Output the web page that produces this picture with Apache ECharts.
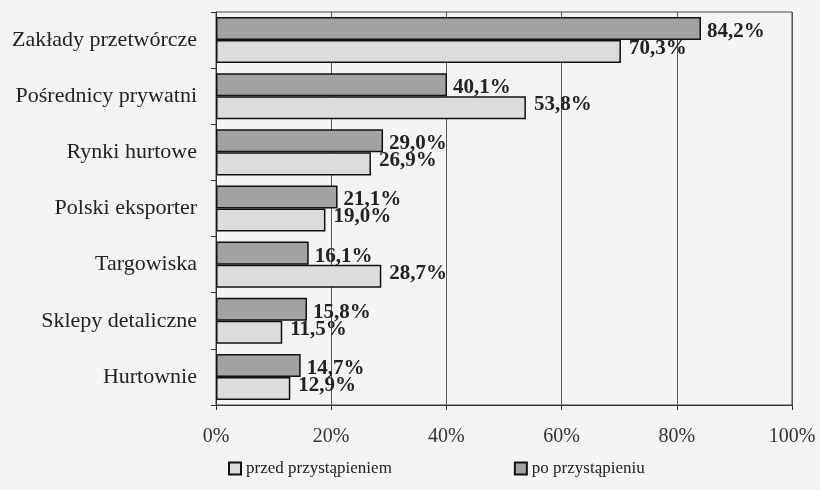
<!DOCTYPE html>
<html><head><meta charset="utf-8">
<script src="https://cdn.jsdelivr.net/npm/echarts@6/dist/echarts.min.js"></script>
<style>html,body{margin:0;padding:0;background:#f4f4f2}#c{width:820px;height:490px}</style>
</head><body><div id="c"></div>
<script>
const categories = ['Zakłady przetwórcze','Pośrednicy prywatni','Rynki hurtowe','Polski eksporter','Targowiska','Sklepy detaliczne','Hurtownie'];
const poValues = [84.2, 40.1, 29.0, 21.1, 16.1, 15.8, 14.7];
const przedValues = [70.3, 53.8, 26.9, 19.0, 28.7, 11.5, 12.9];
const seriesNames = ['przed przystąpieniem', 'po przystąpieniu'];
const xTicks = [0, 20, 40, 60, 80, 100];

const font = 'Liberation Serif';
const fmt = v => v.toFixed(1).replace('.', ',') + '%';
const chart = echarts.init(document.getElementById('c'), null, {renderer:'canvas'});
chart.setOption({
  backgroundColor: '#f4f4f2',
  animation: false,
  grid: {left: 216, right: 28, top: 12, bottom: 85, show: true, borderColor: '#444', borderWidth: 1},
  legend: {
    data: seriesNames, icon: 'rect', bottom: 8, left: 223, itemGap: 122, itemWidth: 12, itemHeight: 12,
    textStyle: {fontFamily: font, fontSize: 17, color: '#222'}
  },
  xAxis: {
    type: 'value', min: 0, max: 100, interval: 20,
    axisLine: {show: true, lineStyle: {color: '#333'}},
    axisTick: {show: true, length: 5, lineStyle: {color: '#333'}},
    axisLabel: {margin: 22, fontFamily: font, fontSize: 20, color: '#333', formatter: v => xTicks.includes(v) ? v + '%' : ''},
    splitLine: {show: true, lineStyle: {color: '#555', width: 1}}
  },
  yAxis: {
    type: 'category', data: categories, inverse: true,
    axisLine: {show: true, lineStyle: {color: '#333'}},
    axisTick: {show: true, length: 5, lineStyle: {color: '#333'}},
    axisLabel: {margin: 19, fontFamily: font, fontSize: 22, color: '#222'}
  },
  series: [
    {
      name: seriesNames[1], type: 'bar', data: poValues, barCategoryGap: '18%', barGap: '0%',
      itemStyle: {color: '#a2a2a0', borderColor: '#111', borderWidth: 1.5},
      label: {show: true, position: 'right', distance: 6, offset: [0, 3], formatter: p => fmt(p.value),
        fontFamily: font, fontSize: 21, fontWeight: 'bold', color: '#222'}
    },
    {
      name: seriesNames[0], type: 'bar', data: przedValues, barCategoryGap: '18%', barGap: '0%',
      itemStyle: {color: '#dcdcda', borderColor: '#111', borderWidth: 1.5},
      label: {show: true, position: 'right', distance: 8, offset: [0, -3], formatter: p => fmt(p.value),
        fontFamily: font, fontSize: 21, fontWeight: 'bold', color: '#222'}
    }
  ]
});
</script></body></html>
